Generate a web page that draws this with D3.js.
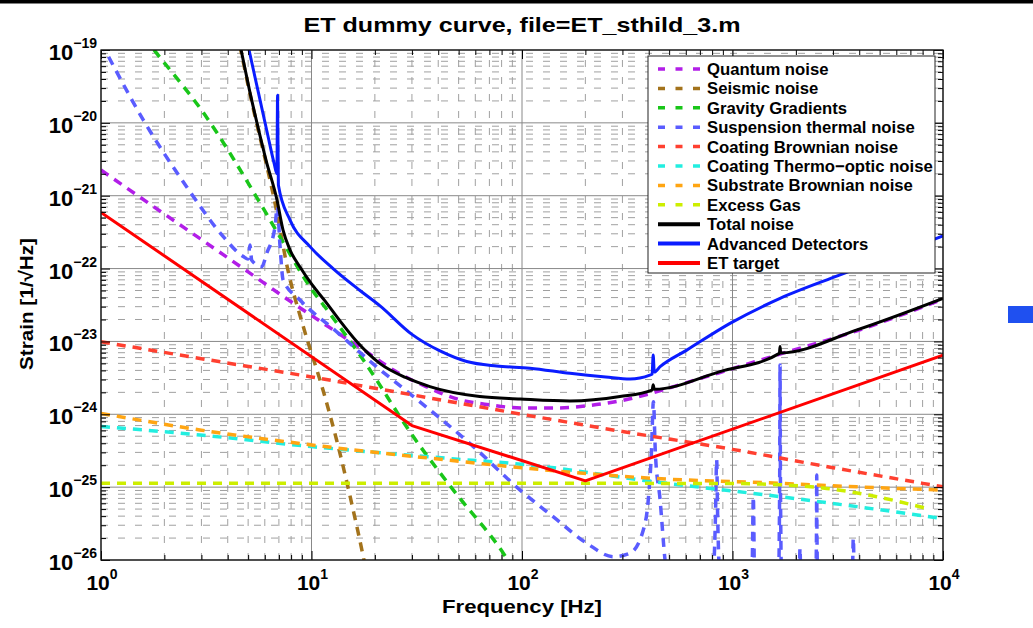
<!DOCTYPE html>
<html>
<head>
<meta charset="utf-8">
<script src="https://cdn.jsdelivr.net/npm/d3@7"></script>
<style>
  body { margin: 0; background: #fff; }
  svg { display: block; font-family: "Liberation Sans", Arial, Helvetica, sans-serif; }
</style>
</head>
<body>
<svg id="chart" width="1033" height="628"></svg>
<script>
// ---- Noise budget curves: frequency [Hz] and strain [1/sqrt(Hz)] ----
const quantumFreq   = [1, 2, 3, 5, 8, 12, 18, 25.4, 35, 50, 70, 100, 150, 200, 300, 400, 600, 872, 1682, 3900, 10000];
const quantumStrain = [2.25e-21, 5.6e-22, 2.5e-22, 9.0e-23, 3.5e-23, 1.6e-23, 7.4e-24, 3.8e-24, 2.4e-24, 1.6e-24, 1.35e-24, 1.22e-24, 1.22e-24, 1.3e-24, 1.55e-24, 1.9e-24, 2.7e-24, 3.75e-24, 6.7e-24, 1.4e-23, 3.8e-23];

const seismicFreq   = [4.4, 4.63, 5.05, 5.51, 6.08, 6.71, 7.76, 9.14, 11.34, 13.17, 15.52, 17.63, 18.2];
const seismicStrain = [1.9e-19, 9.5e-20, 2.85e-20, 9.4e-21, 2.85e-21, 7.9e-22, 9e-23, 1.6e-23, 2.15e-24, 4.4e-25, 6.0e-26, 1.1e-26, 7e-27];

const gravityFreq   = [1.6, 1.84, 3.12, 5.59, 7.22, 9.84, 12.2, 17.6, 30.5, 47.2, 81.5, 90];
const gravityStrain = [1.5e-19, 9e-20, 1.28e-20, 8.7e-22, 2.47e-22, 5.6e-23, 2.43e-23, 5.6e-24, 4.9e-25, 9.1e-26, 1.24e-26, 8e-27];

const suspensionFreq   = [1.0, 1.044, 1.59, 2.55, 3.81, 4.74, 5.0, 5.1, 5.2, 5.8, 6.13, 6.71, 6.88, 7.09, 7.33, 8.82, 13, 20, 30.5, 57, 98, 141, 203, 272, 326, 377, 398, 412, 421, 430, 453, 478, 500,
                          800, 830, 841, 850, 880, 1235, 1256, 1275, 1650, 1675, 1682, 1690, 1715, 2070, 2093, 2115, 2480, 2505, 2512, 2520, 2545, 3700, 3749, 3800, 10000];
const suspensionStrain = [1.26e-19, 1e-19, 1.09e-20, 1.33e-21, 2.74e-22, 1.46e-22, 1.35e-22, 2.1e-22, 1.3e-22, 1.06e-22, 1.62e-22, 3.76e-22, 7.0e-22, 2.0e-22, 7.0e-23, 3.7e-23, 1.4e-23, 4.7e-24, 1.75e-24, 3.9e-25, 9.1e-26, 3.9e-26, 1.7e-26, 1.11e-26, 1.24e-26, 2.58e-26, 6.67e-26, 3e-25, 1.49e-24, 3e-25, 6.67e-26, 1e-26, 4e-27,
                          4e-27, 4e-26, 2.36e-25, 4e-26, 4e-27, 4e-27, 7.4e-26, 4e-27, 4e-27, 1e-25, 4.75e-24, 1e-25, 4e-27, 4e-27, 1.45e-26, 4e-27, 4e-27, 2e-26, 1.47e-25, 2e-26, 4e-27, 4e-27, 1.99e-26, 4e-27, 4e-27];

const coatingBrownFreq   = [1, 3, 10, 30, 100, 300, 1000, 3000, 10000];
const coatingBrownStrain = [9.9e-24, 5.8e-24, 3.25e-24, 1.85e-24, 1.0e-24, 5.8e-25, 3.3e-25, 1.85e-25, 1.01e-25];

const thermoOpticFreq   = [1, 2.95, 10, 43.9, 109, 421, 1682, 3900, 10000];
const thermoOpticStrain = [6.8e-25, 5.2e-25, 3.6e-25, 2.49e-25, 2.01e-25, 1.19e-25, 7.4e-26, 5.4e-26, 3.7e-26];

const substrateFreq   = [1, 2.95, 10, 43.9, 109, 421, 1682, 3900, 10000];
const substrateStrain = [1.03e-24, 6.1e-25, 3.8e-25, 2.36e-25, 1.8e-25, 1.32e-25, 1.13e-25, 1.01e-25, 9.1e-26];

const excessGasFreq   = [1, 100, 1000, 1682, 2800, 4842, 8370];
const excessGasStrain = [1.13e-25, 1.13e-25, 1.12e-25, 1.08e-25, 9.6e-26, 7.4e-26, 5.1e-26];

const totalFreq   = [4.4, 4.63, 5.05, 5.51, 6.08, 6.86, 7.32, 7.91, 8.82, 10.06, 11.59, 13.5, 16.4, 21.1, 28, 36.5, 63, 98, 169, 292, 415, 420, 425, 872, 1670, 1682, 1695, 3900, 10000];
const totalStrain = [2.0e-19, 1e-19, 3.0e-20, 9.95e-21, 3.09e-21, 8.7e-22, 3.4e-22, 1.8e-22, 1.05e-22, 6.0e-23, 3.6e-23, 2.0e-23, 1.0e-23, 5.0e-24, 3.2e-24, 2.4e-24, 1.75e-24, 1.62e-24, 1.52e-24, 1.75e-24, 2.15e-24, 2.55e-24, 2.2e-24, 3.85e-24, 6.85e-24, 8.5e-24, 6.95e-24, 1.44e-23, 3.9e-23];

const advancedFreq   = [4.83, 5.05, 5.42, 5.82, 6.21, 6.64, 6.85, 6.9, 6.96, 7.9, 9.84, 12.66, 17, 21.1, 30, 40.8, 54.6, 75.8, 109, 169, 250, 326, 405, 415, 420, 425, 453, 606, 973, 1682, 3243, 10000];
const advancedStrain = [1.77e-19, 1e-19, 3.94e-20, 1.55e-20, 6.6e-21, 2.8e-21, 2.0e-21, 2.4e-20, 1.4e-21, 4.65e-22, 2.0e-22, 1.0e-22, 5.0e-23, 3.1e-23, 1.25e-23, 7.4e-24, 5.3e-24, 4.6e-24, 4.3e-24, 3.65e-24, 3.25e-24, 3.05e-24, 3.45e-24, 3.55e-24, 6.5e-24, 3.8e-24, 4.5e-24, 7.6e-24, 1.77e-23, 3.9e-23, 8.2e-23, 2.8e-22];

const etTargetFreq   = [1, 30, 200, 10000];
const etTargetStrain = [5.9e-22, 7.0e-25, 1.22e-25, 6.5e-24];

// ---- Axis ticks ----
const xTickValues    = [1, 10, 100, 1000, 10000];
const xTickExponents = ["0", "1", "2", "3", "4"];
const yTickValues    = [1e-26, 1e-25, 1e-24, 1e-23, 1e-22, 1e-21, 1e-20, 1e-19];
const yTickExponents = ["\u221226", "\u221225", "\u221224", "\u221223", "\u221222", "\u221221", "\u221220", "\u221219"];

const titleText  = "ET dummy curve, file=ET_sthild_3.m";
const xAxisTitle = "Frequency [Hz]";
const yAxisTitle = "Strain [1/\u221AHz]";

// ---- Series table (drawing order = legend order) ----
const series = [
  { name: "Quantum noise",              f: quantumFreq,      v: quantumStrain,      color: "#b21ee8", dashed: true },
  { name: "Seismic noise",              f: seismicFreq,      v: seismicStrain,      color: "#a3731c", dashed: true },
  { name: "Gravity Gradients",          f: gravityFreq,      v: gravityStrain,      color: "#19c619", dashed: true },
  { name: "Suspension thermal noise",   f: suspensionFreq,   v: suspensionStrain,   color: "#5a5cff", dashed: true },
  { name: "Coating Brownian noise",     f: coatingBrownFreq, v: coatingBrownStrain, color: "#ff4030", dashed: true },
  { name: "Coating Thermo\u2212optic noise", f: thermoOpticFreq, v: thermoOpticStrain, color: "#22eee0", dashed: true },
  { name: "Substrate Brownian noise",   f: substrateFreq,    v: substrateStrain,    color: "#ffa512", dashed: true },
  { name: "Excess Gas",                 f: excessGasFreq,    v: excessGasStrain,    color: "#cdee00", dashed: true },
  { name: "Total noise",                f: totalFreq,        v: totalStrain,        color: "#000000", dashed: false },
  { name: "Advanced Detectors",         f: advancedFreq,     v: advancedStrain,     color: "#0a1cff", dashed: false },
  { name: "ET target",                  f: etTargetFreq,     v: etTargetStrain,     color: "#ff0000", dashed: false, straight: true }
];

// ---- Layout ----
const W = 1033, H = 628;
const plot = { left: 101, right: 943, top: 50, bottom: 560 };

const x = d3.scaleLog().domain([1, 1e4]).range([plot.left, plot.right]);
const y = d3.scaleLog().domain([1e-26, 1e-19]).range([plot.bottom, plot.top]);

const svg = d3.select("#chart");
svg.append("rect").attr("width", W).attr("height", H).attr("fill", "#fff");

// page rule along the top edge and the swatch at the right margin
svg.append("rect").attr("x", 0).attr("y", 0).attr("width", W).attr("height", 3.5).attr("fill", "#000");
svg.append("rect").attr("x", 1008).attr("y", 306).attr("width", 25).attr("height", 17).attr("fill", "#1f50f0");

svg.append("defs").append("clipPath").attr("id", "plotClip")
  .append("rect")
  .attr("x", plot.left).attr("y", plot.top)
  .attr("width", plot.right - plot.left).attr("height", plot.bottom - plot.top);

// ---- Grid ----
const minorX = [];
for (let e = 0; e < 4; e++) for (let m = 2; m <= 9; m++) minorX.push(m * Math.pow(10, e));
const minorY = [];
for (let e = -26; e < -19; e++) for (let m = 2; m <= 9; m++) minorY.push(m * Math.pow(10, e));

const grid = svg.append("g");
grid.selectAll(".gx").data(minorX).join("line")
  .attr("x1", d => x(d)).attr("x2", d => x(d))
  .attr("y1", plot.bottom).attr("y2", plot.top)
  .attr("stroke", "#a0a0a0").attr("stroke-width", 1).attr("stroke-dasharray", "7,10");
grid.selectAll(".gy").data(minorY).join("line")
  .attr("x1", plot.left).attr("x2", plot.right)
  .attr("y1", d => y(d)).attr("y2", d => y(d))
  .attr("stroke", "#a0a0a0").attr("stroke-width", 1).attr("stroke-dasharray", "7,10");
grid.selectAll(".mx").data(xTickValues).join("line")
  .attr("x1", d => x(d)).attr("x2", d => x(d))
  .attr("y1", plot.bottom).attr("y2", plot.top)
  .attr("stroke", "#888").attr("stroke-width", 1);
grid.selectAll(".my").data(yTickValues).join("line")
  .attr("x1", plot.left).attr("x2", plot.right)
  .attr("y1", d => y(d)).attr("y2", d => y(d))
  .attr("stroke", "#888").attr("stroke-width", 1);

// ---- Curves ----
const curves = svg.append("g").attr("clip-path", "url(#plotClip)");
series.forEach(s => {
  const pts = s.f.map((f, i) => [f, s.v[i]]);
  const line = d3.line()
    .x(d => x(d[0]))
    .y(d => y(d[1]))
    .curve(s.straight ? d3.curveLinear : d3.curveMonotoneX);
  curves.append("path")
    .attr("d", line(pts))
    .attr("fill", "none")
    .attr("stroke", s.color)
    .attr("stroke-width", s.dashed ? 3.5 : 3)
    .attr("stroke-linejoin", "round")
    .attr("stroke-dasharray", s.dashed ? "9,7" : null);
});

// ---- Ticks (inside, all four sides) ----
function ticks(axisFn, scale, values, size, transform) {
  const g = svg.append("g").attr("transform", transform)
    .call(axisFn(scale).tickValues(values).tickSize(size).tickFormat(""));
  g.select(".domain").remove();
  g.selectAll("line").attr("stroke", "#000");
}
ticks(d3.axisBottom, x, xTickValues, -9, `translate(0,${plot.bottom})`);
ticks(d3.axisBottom, x, minorX, -5, `translate(0,${plot.bottom})`);
ticks(d3.axisTop, x, xTickValues, -9, `translate(0,${plot.top})`);
ticks(d3.axisTop, x, minorX, -5, `translate(0,${plot.top})`);
ticks(d3.axisLeft, y, yTickValues, -9, `translate(${plot.left},0)`);
ticks(d3.axisLeft, y, minorY, -5, `translate(${plot.left},0)`);
ticks(d3.axisRight, y, yTickValues, -9, `translate(${plot.right},0)`);
ticks(d3.axisRight, y, minorY, -5, `translate(${plot.right},0)`);

// axes box
svg.append("rect")
  .attr("x", plot.left).attr("y", plot.top)
  .attr("width", plot.right - plot.left).attr("height", plot.bottom - plot.top)
  .attr("fill", "none").attr("stroke", "#111").attr("stroke-width", 1.3);

// ---- Tick labels ----
yTickValues.forEach((v, i) => {
  const t = svg.append("text")
    .attr("x", 97).attr("y", y(v) + 10)
    .attr("text-anchor", "end")
    .attr("font-weight", "bold").attr("font-size", 22).attr("fill", "#000");
  t.append("tspan").text("10");
  t.append("tspan").attr("dy", -12).attr("font-size", 14).text(yTickExponents[i]);
});
xTickValues.forEach((v, i) => {
  const t = svg.append("text")
    .attr("x", x(v) + 1).attr("y", 590)
    .attr("text-anchor", "middle")
    .attr("font-weight", "bold").attr("font-size", 21).attr("fill", "#000");
  t.append("tspan").text("10");
  t.append("tspan").attr("dy", -11).attr("font-size", 14).text(xTickExponents[i]);
});

// ---- Titles ----
svg.append("text")
  .attr("x", 522).attr("y", 31.5)
  .attr("text-anchor", "middle")
  .attr("font-weight", "bold").attr("font-size", 21)
  .attr("textLength", 437).attr("lengthAdjust", "spacingAndGlyphs")
  .text(titleText);
svg.append("text")
  .attr("x", 522).attr("y", 613)
  .attr("text-anchor", "middle")
  .attr("font-weight", "bold").attr("font-size", 18)
  .attr("textLength", 160).attr("lengthAdjust", "spacingAndGlyphs")
  .text(xAxisTitle);
svg.append("text")
  .attr("transform", "translate(33,304) rotate(-90)")
  .attr("text-anchor", "middle")
  .attr("font-weight", "bold").attr("font-size", 19)
  .attr("textLength", 132).attr("lengthAdjust", "spacingAndGlyphs")
  .text(yAxisTitle);

// ---- Legend ----
const legend = { x: 648, y: 56, w: 287, h: 217, row0: 69, rowStep: 19.4 };
const lg = svg.append("g");
lg.append("rect")
  .attr("x", legend.x).attr("y", legend.y).attr("width", legend.w).attr("height", legend.h)
  .attr("fill", "#fff").attr("stroke", "#222").attr("stroke-width", 1);
series.forEach((s, i) => {
  const cy = legend.row0 + i * legend.rowStep;
  lg.append("line")
    .attr("x1", 658).attr("x2", 700).attr("y1", cy).attr("y2", cy)
    .attr("stroke", s.color).attr("stroke-width", s.dashed ? 3.5 : 4)
    .attr("stroke-dasharray", s.dashed ? "7,10.5" : null);
  lg.append("text")
    .attr("x", 707).attr("y", cy + 6)
    .attr("font-weight", "bold").attr("font-size", 16.7).attr("fill", "#000")
    .text(s.name);
});
</script>
</body>
</html>
